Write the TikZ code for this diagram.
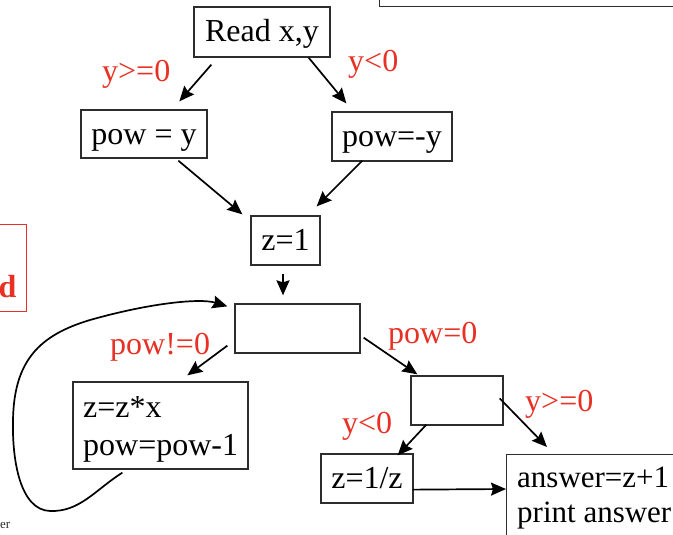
\documentclass[tikz,border=0pt]{standalone}
\usepackage{fontspec}
\setmainfont{Liberation Serif}
\usetikzlibrary{arrows.meta,calc}
\definecolor{labred}{RGB}{232,48,36}
\definecolor{boxgray}{RGB}{45,45,45}
\tikzset{
  big/.style={font=\fontsize{32}{38}\selectfont},
  box/.style={draw=boxgray, line width=1.3pt, inner sep=0pt, big},
  onebox/.style={box, text height=20pt, text depth=0pt},
  txt/.style={inner sep=0pt, anchor=base west, big},
  lab/.style={text=labred, inner sep=0pt, anchor=base west, big},
  arr/.style={line width=1.7pt, -{Stealth[length=15pt,width=13pt,inset=2pt]}},
}
\begin{document}
\begin{tikzpicture}[x=1pt,y=-1pt]
\path[use as bounding box, clip] (0,0) rectangle (673,535);
\fill[white] (0,0) rectangle (673,535);

% cut-off boxes at the edges
\node[box, minimum width=320pt, minimum height=50pt, anchor=south west] (note) at (379,7) {};
\node[box, draw=labred, minimum width=100pt, minimum height=87pt, anchor=north east] (side) at (27,224) {};
\node[anchor=base east, inner sep=0pt, text=labred, font=\bfseries\fontsize{32}{38}\selectfont] (sidetext) at (16.5,297) {d};
\node[anchor=base west, inner sep=0pt, font=\fontsize{13}{15}\selectfont, text=boxgray] (foot) at (0,528) {er};

% main boxes
\node[onebox, minimum width=136pt, minimum height=50pt] (read) at (262,32) {Read x,y};
\node[onebox, minimum width=126pt, minimum height=48pt] (powy) at (144,134) {pow = y};
\node[onebox, minimum width=120pt, minimum height=49pt] (powny) at (392,136.5) {pow=-y};
\node[onebox, minimum width=69pt, minimum height=49pt] (z1) at (285.5,240.5) {z=1};
\node[box, minimum width=125pt, minimum height=49pt] (t1) at (297.5,328.5) {};
\node[box, minimum width=175pt, minimum height=87pt] (loop) at (160.5,425.5) {};
\node[txt] (loopa) at (83,417) {z=z*x};
\node[txt] (loopb) at (83,455) {pow=pow-1};
\node[box, minimum width=92pt, minimum height=49pt] (t2) at (457,400.5) {};
\node[onebox, minimum width=92pt, minimum height=49pt] (inv) at (367,478.5) {z=1/z};
\node[box, minimum width=200pt, minimum height=120pt, anchor=north west] (ans) at (506,454) {};
\node[txt, font=\fontsize{31}{36}\selectfont] (ansa) at (517,487) {answer=z+1};
\node[txt, font=\fontsize{31}{36}\selectfont] (ansb) at (517,522) {print answer};

% labels
\node[lab] (l1) at (102,82) {y>=0};
\node[lab] (l2) at (348,72) {y<0};
\node[lab] (l3) at (110,354) {pow!=0};
\node[lab] (l4) at (388,343) {pow=0};
\node[lab] (l5) at (525,411) {y>=0};
\node[lab] (l6) at (342,433) {y<0};

% connectors
\draw[arr] ($(read.south west)+(18,7)$) -- ($(powy.north west)+(99,-8)$);
\draw[arr] ($(read.south east)+(-22,0)$) -- ($(powny.north west)+(15,-8)$);
\draw[arr] ($(powy.south west)+(98,2)$) -- ($(z1.north west)+(-8,-1)$);
\draw[arr] ($(powny.south west)+(31,-1)$) -- ($(z1.north east)+(-4,-9)$);
\draw[arr] ($(z1.south)+(-2.5,8)$) -- ($(t1.north)+(-14.5,-8)$);
\draw[arr] ($(t1.south west)+(-7,-8)$) -- ($(loop.north west)+(115,-6)$);
\draw[arr] ($(t1.south east)+(3,-16)$) -- ($(t2.north west)+(7,-1)$);
\draw[arr] ($(t2.south west)+(16,-1)$) -- ($(inv.north east)+(-16,2)$);
\draw[arr] ($(t2.north east)+(-4,23)$) -- ($(ans.north west)+(41,-7)$);
\draw[arr] ($(inv.south east)+(-1,-14)$) -- ($(ans.north west)+(0,35)$);
\draw[arr] ($(loop.south west)+(50,3)$) .. controls (95,490) and (80,512) .. (50,511)
  .. controls (20,510) and (12,460) .. (13,420)
  .. controls (14,360) and (40,335) .. (90,320)
  .. controls (150,303) and (200,298) .. ($(t1.north west)+(-7,3)$);
\end{tikzpicture}
\end{document}
